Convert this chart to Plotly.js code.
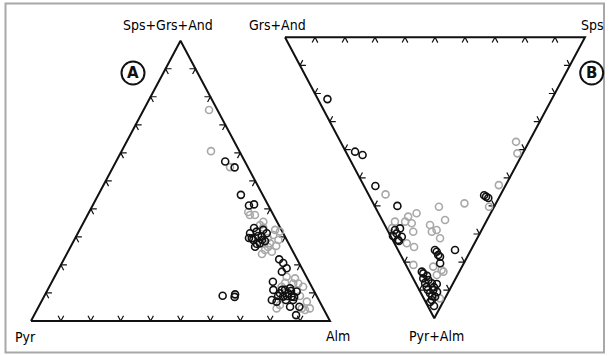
<!DOCTYPE html>
<html><head><meta charset="utf-8">
<script src="https://cdn.plot.ly/plotly-3.0.1.min.js"></script>
<style>html,body{margin:0;padding:0;background:#fff}#chart{width:609px;height:356px}</style>
</head><body><div id="chart"></div>
<script>
// ---------- DATA (percent) ----------
// Diagram A: Pyr - Alm - (Sps+Grs+And); Pyr = 100 - Alm - SGA
const aBlackSGA = [56.9,54.8,45.0,41.2,41.6,31.3,28.9,31.9,30.1,32.5,31.3,26.5,27.7,29.5,30.3,22.0,20.7,17.6,18.8,14.0,11.1,9.9,11.1,11.7,10.5,8.7,8.7,7.5,6.9,9.9,5.1,5.1,2.1,9.0,9.5,8.6,8.6,7.5,33.2,28.9,27.5,29.6,28.5,8.9,7.5,11.1,8.9,10.7];
const aBlackAlm = [36.5,40.7,47.7,52.3,53.8,57.6,59.9,59.5,62.1,61.4,63.2,61.7,62.7,59.1,60.8,72.0,74.0,75.1,76.1,73.9,75.5,78.3,79.4,80.8,83.6,80.0,82.8,76.8,78.7,81.1,84.1,87.2,87.6,59.6,63.5,63.8,83.7,81.5,58.0,62.8,61.8,58.1,64.0,81.2,83.9,78.4,78.2,81.6];
const aGreySGA = [75.3,60.6,54.9,38.9,37.8,37.8,35.4,34.2,30.7,28.9,27.7,25.3,24.7,31.9,15.8,15.2,13.4,12.2,5.7,4.5,6.9,4.5,4.5,13.4,12.2,32.5,33.3,26.4,29.6,23.9,26.8,8.9,13.6,3.9];
const aGreyAlm = [21.9,29.9,39.1,53.2,54.3,56.0,60.0,59.5,65.7,68.3,66.1,65.6,68.2,67.3,77.6,80.7,82.7,84.9,80.4,79.9,88.8,88.3,91.0,81.0,77.7,65.4,61.0,66.1,64.4,65.3,68.6,85.5,78.2,89.7];
// Diagram B: (Grs+And) - Sps - (Pyr+Alm); Grs+And = 100 - Sps - PA
const bBlackPA  = [22.0,40.7,41.9,52.9,60.0,56.7,56.2,57.2,69.8,71.0,68.6,68.0,72.1,75.7,77.5,80.4,75.7,83.4,85.8,86.4,87.5,88.8,89.9,91.1,92.3,93.5,95.6,84.0,76.3,78.1,87.8,84.9,89.9,92.1,87.4,88.9,94.2,90.6,70.7,72.5];
const bBlackSps = [3.2,3.1,5.0,3.8,7.6,38.8,38.4,39.3,2.5,3.6,2.5,4.5,1.8,12.3,12.5,11.7,19.0,4.1,3.4,4.8,5.4,3.0,4.7,3.0,4.1,2.4,2.1,4.3,12.6,12.8,6.9,5.1,2.9,3.2,3.2,5.4,1.5,5.6,0.8,1.9];
const bGreyPA  = [37.2,41.3,55.9,62.6,60.3,59.1,52.6,60.3,65.6,65.6,63.8,66.2,69.2,73.3,66.8,68.6,69.2,71.5,65.0,81.0,81.6,82.8,84.6,92.9,83.4,74.6,67.9];
const bGreySps = [58.5,56.9,5.7,12.7,21.3,30.4,45.1,38.0,4.0,7.4,9.3,9.3,8.3,4.1,15.1,16.4,14.5,16.1,21.0,2.5,8.8,11.0,8.5,5.4,11.3,5.9,1.9];
const tickPct = [10,20,30,40,50,60,70,80,90];
const labelsA = ['Pyr','Alm','Sps+Grs+And'];
const labelsB = ['Grs+And','Sps','Pyr+Alm'];

// ---------- GEOMETRY (pixel frame of the hidden axes) ----------
const triA = [[31,321],[330,321],[180.5,40.7]];   // Pyr, Alm, SGA
const triB = [[285,37.3],[585,37.3],[434.3,318.3]]; // GA, Sps, PA

function bary(tri, w1, w2, w3){
  const s = w1+w2+w3;
  return [(w1*tri[0][0]+w2*tri[1][0]+w3*tri[2][0])/s,(w1*tri[0][1]+w2*tri[1][1]+w3*tri[2][1])/s];
}
function ptsA(sga, alm){
  const xs=[],ys=[];
  for(let i=0;i<sga.length;i++){const p=bary(triA,100-sga[i]-alm[i],alm[i],sga[i]);xs.push(p[0]);ys.push(p[1]);}
  return [xs,ys];
}
function ptsB(pa, sps){
  const xs=[],ys=[];
  for(let i=0;i<pa.length;i++){const p=bary(triB,100-pa[i]-sps[i],sps[i],pa[i]);xs.push(p[0]);ys.push(p[1]);}
  return [xs,ys];
}
function outline(tri){
  return {x:[tri[0][0],tri[1][0],tri[2][0],tri[0][0]],y:[tri[0][1],tri[1][1],tri[2][1],tri[0][1]],
    mode:'lines',line:{color:'#111',width:2},hoverinfo:'skip',showlegend:false,type:'scatter'};
}
function ticks(tri){
  const L=6, xs=[], ys=[];
  const edges=[[0,1,2],[1,2,0],[2,0,1]];
  edges.forEach(([i,j,k])=>{
    const V1=tri[i],V2=tri[j],V3=tri[k];
    const d1=[V3[0]-V1[0],V3[1]-V1[1]], d2=[V3[0]-V2[0],V3[1]-V2[1]];
    const n1=Math.hypot(d1[0],d1[1]), n2=Math.hypot(d2[0],d2[1]);
    tickPct.forEach(t=>{
      const f=t/100;
      const P=[V1[0]+(V2[0]-V1[0])*f, V1[1]+(V2[1]-V1[1])*f];
      xs.push(P[0]+d1[0]/n1*L, P[0], P[0]+d2[0]/n2*L, null);
      ys.push(P[1]+d1[1]/n1*L, P[1], P[1]+d2[1]/n2*L, null);
    });
  });
  return {x:xs,y:ys,mode:'lines',line:{color:'#111',width:1.2},hoverinfo:'skip',showlegend:false,type:'scatter',connectgaps:false};
}
function markers(xy,color){
  return {x:xy[0],y:xy[1],mode:'markers',type:'scatter',showlegend:false,hoverinfo:'skip',
    marker:{symbol:'circle-open',size:7,color:color,line:{width:1.6,color:color}}};
}

const traces=[
  outline(triA), ticks(triA), outline(triB), ticks(triB),
  markers(ptsA(aGreySGA,aGreyAlm),'#a8a8a8'),
  markers(ptsB(bGreyPA,bGreySps),'#a8a8a8'),
  markers(ptsA(aBlackSGA,aBlackAlm),'#111111'),
  markers(ptsB(bBlackPA,bBlackSps),'#111111')
];

const fnt={family:'DejaVu Sans Condensed, DejaVu Sans',size:14,color:'#000'};
function lab(text,x,y){return {text:text,x:x,y:y,xref:'x',yref:'y',showarrow:false,font:fnt,xanchor:'center',yanchor:'middle'};}
const annotations=[
  lab(labelsA[2],168,25), lab(labelsA[0],25,336.5), lab(labelsA[1],338,335.5),
  lab(labelsB[0],277,25), lab(labelsB[1],592,25), lab(labelsB[2],436.5,335.5),
  {text:'<b>A</b>',x:133,y:73,xref:'x',yref:'y',showarrow:false,font:{family:'DejaVu Sans',size:15,color:'#111'}},
  {text:'<b>B</b>',x:591.7,y:73,xref:'x',yref:'y',showarrow:false,font:{family:'DejaVu Sans',size:15,color:'#111'}}
];
const shapes=[
  {type:'rect',xref:'x',yref:'y',x0:5.5,y0:3.5,x1:604,y1:352.5,line:{color:'#a8a8a8',width:2}},
  {type:'circle',xref:'x',yref:'y',x0:121.5,y0:61.5,x1:144.5,y1:84.5,line:{color:'#111',width:2}},
  {type:'circle',xref:'x',yref:'y',x0:580.2,y0:61.5,x1:603.2,y1:84.5,line:{color:'#111',width:2}}
];
const layout={width:609,height:356,margin:{l:0,r:0,t:0,b:0},paper_bgcolor:'#fff',plot_bgcolor:'#fff',
  xaxis:{range:[0,609],visible:false,fixedrange:true},
  yaxis:{range:[356,0],visible:false,fixedrange:true},
  annotations:annotations,shapes:shapes,showlegend:false};
Plotly.newPlot('chart',traces,layout,{staticPlot:true,displayModeBar:false});
</script></body></html>
